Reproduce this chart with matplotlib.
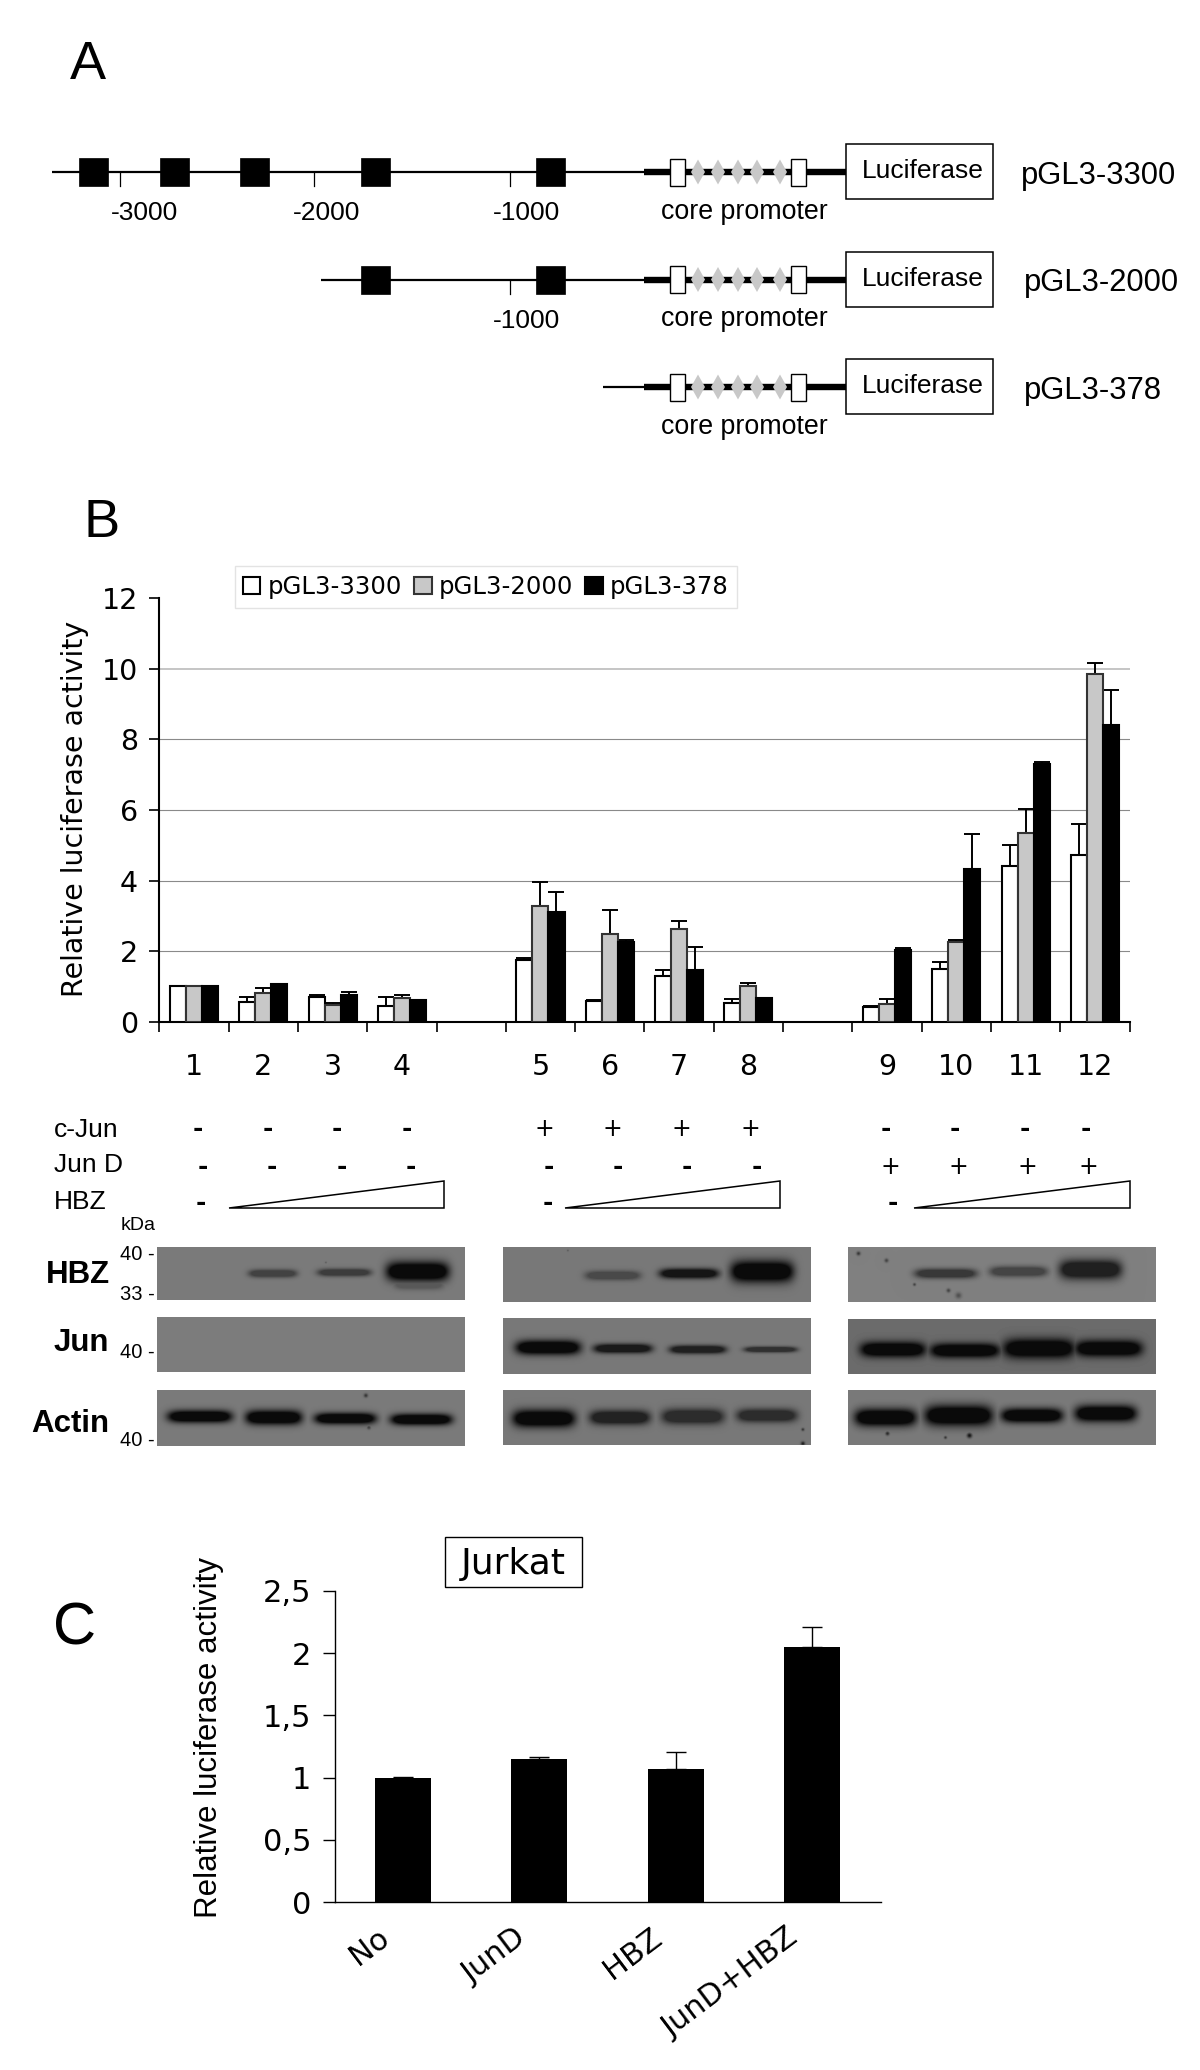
import numpy as np
import matplotlib
matplotlib.use('Agg')
from matplotlib import pyplot as plt
from matplotlib.patches import Rectangle, Polygon

W, H = 1200, 2070
ARIAL = 'Liberation Sans'
VERD = 'DejaVu Sans'

# panel B data
lane_labels = ['1', '2', '3', '4', '5', '6', '7', '8', '9', '10', '11', '12']
lane_slots = [0, 1, 2, 3, 5, 6, 7, 8, 10, 11, 12, 13]
series_names = ['pGL3-3300', 'pGL3-2000', 'pGL3-378']
val_3300 = [1.01, 0.57, 0.70, 0.45, 1.75, 0.60, 1.31, 0.55, 0.43, 1.50, 4.41, 4.73]
top_3300 = [1.01, 0.71, 0.76, 0.70, 1.82, 0.62, 1.46, 0.64, 0.45, 1.69, 5.01, 5.61]
val_2000 = [1.01, 0.83, 0.47, 0.68, 3.28, 2.49, 2.63, 1.01, 0.52, 2.26, 5.36, 9.86]
top_2000 = [1.01, 0.96, 0.54, 0.76, 3.97, 3.18, 2.87, 1.09, 0.64, 2.31, 6.03, 10.16]
val_378 = [1.01, 1.07, 0.76, 0.63, 3.11, 2.26, 1.48, 0.68, 2.03, 4.33, 7.30, 8.41]
top_378 = [1.01, 1.07, 0.86, 0.63, 3.67, 2.33, 2.12, 0.68, 2.10, 5.32, 7.36, 9.39]
b_yticks = [0, 2, 4, 6, 8, 10, 12]

# panel C data
c_labels = ['No', 'JunD', 'HBZ', 'JunD+HBZ']
c_vals = [1.0, 1.15, 1.07, 2.05]
c_tops = [1.005, 1.168, 1.208, 2.21]
c_yticks = [0, 0.5, 1, 1.5, 2, 2.5]
c_yticklabels = ['0', '0,5', '1', '1,5', '2', '2,5']

# treatment rows under panel B
cjun_signs = ['-', '-', '-', '-', '+', '+', '+', '+', '-', '-', '-', '-']
jund_signs = ['-', '-', '-', '-', '-', '-', '-', '-', '+', '+', '+', '+']

fig = plt.figure(figsize=(W / 100, H / 100), dpi=100, facecolor='white')


def rect_px(x0, y0, x1, y1):
    return [x0 / W, 1 - y1 / H, (x1 - x0) / W, (y1 - y0) / H]


ov = fig.add_axes([0, 0, 1, 1], zorder=5)
ov.set_xlim(0, W)
ov.set_ylim(H, 0)
ov.axis('off')
ov.patch.set_alpha(0)


def txt(x, y, s, size, ha='left', va='center', family=ARIAL, **kw):
    ov.text(x, y, s, fontsize=size, ha=ha, va=va, family=family, zorder=6, **kw)


def sign(x, y, s):
    if s == '+':
        txt(x, y, s, 17, ha='center', family=VERD)
    else:
        txt(x, y, s, 18, ha='center', family=VERD, weight='bold')


# panel letters
txt(88, 65, 'A', 39, ha='center')
txt(102, 523, 'B', 39, ha='center')
txt(75, 1629, 'C', 43, ha='center')

# panel A, promoter maps
# (row y, start of thin line, enhancer boxes, scale ticks, name)
rows = [
    (172, 52, [79, 160, 240, 361, 536], [(120, '-3000', 144), (314, '-2000', 327), (510, '-1000', 526)], 'pGL3-3300', 1021),
    (279.5, 321, [361, 536], [(510, '-1000', 526)], 'pGL3-2000', 1024),
    (387, 603, [], [], 'pGL3-378', 1024),
]
for y, start, boxes, scale, name, name_x in rows:
    ov.plot([start, 646], [y, y], color='k', lw=1.6, solid_capstyle='butt')
    ov.plot([644, 846], [y, y], color='k', lw=4.6, solid_capstyle='butt')
    for bx in boxes:
        ov.add_patch(Rectangle((bx, y - 14), 29, 28, fc='k', ec='k', lw=0.5, zorder=3))
    for tx, lab, lx in scale:
        ov.plot([tx, tx], [y, y + 14], color='k', lw=0.9)
        txt(lx, y + 41, lab, 19, ha='center')
    for dx in [698, 718, 738, 757, 780]:
        ov.add_patch(Polygon([(dx - 7, y), (dx, y - 12.5), (dx + 7, y), (dx, y + 12.5)], fc='#c8c8c8', ec='none', zorder=3))
    for wx in [670, 791]:
        ov.add_patch(Rectangle((wx, y - 13.5), 14.5, 27, fc='white', ec='k', lw=1, zorder=4))
    ov.add_patch(Rectangle((845.5, y - 28), 147.5, 55, fc='white', ec='k', lw=1.1, zorder=4))
    txt(923, y - 1, 'Luciferase', 19, ha='center')
    txt(744, y + 40, 'core promoter', 19.3, ha='center')
    txt(name_x, y + 4, name, 22.3)

# panel B bars
ax = fig.add_axes(rect_px(159.3, 598, 1129.6, 1022))
ax.set_xlim(0, 14)
ax.set_ylim(0, 12)
slots = np.array(lane_slots) + 0.5
bw = 0.231
styles = [('white', 'k'), ('#c8c8c8', '#333333'), ('k', 'k')]
vals = [val_3300, val_2000, val_378]
tops = [top_3300, top_2000, top_378]
handles = []
ax.set_axisbelow(True)
for i in range(3):
    xs = slots + (i - 1) * bw
    v = np.array(vals[i])
    t = np.array(tops[i])
    bars = ax.bar(xs, v, bw, color=styles[i][0], edgecolor=styles[i][1], linewidth=1.5, zorder=3, label=series_names[i])
    handles.append(bars)
    keep = t > v
    ax.errorbar(xs[keep], v[keep], yerr=[np.zeros(keep.sum()), (t - v)[keep]], fmt='none', ecolor='k',
                elinewidth=1.4, capsize=5.8, capthick=1.4, zorder=2.5)
ax.spines['top'].set_visible(False)
ax.spines['right'].set_visible(False)
ax.spines['left'].set_linewidth(1.5)
ax.spines['bottom'].set_linewidth(1.5)
ax.set_yticks(b_yticks)
ax.set_xticks(range(15))
ax.set_xticklabels([])
ax.set_xticks(slots, lane_labels, minor=True)
ax.tick_params(axis='x', which='major', length=7.2, width=1.2)
ax.tick_params(axis='x', which='minor', length=0, pad=22, labelsize=20.5, labelfontfamily=VERD)
ax.tick_params(axis='y', length=7.2, width=1.2, labelsize=20.5, labelfontfamily=VERD, pad=8)
ax.yaxis.grid(True, color='#8a8a8a', lw=0.8)
gl = ax.yaxis.get_gridlines()
gl[0].set_visible(False)
gl[-1].set_visible(False)
gl[-2].set_color('#bbbbbb')
gl[-2].set_linewidth(1.2)
txt(75, 809, 'Relative luciferase activity', 20.5, ha='center', family=VERD, rotation=90)

leg = fig.legend(handles=[h[0] for h in handles], labels=series_names, ncol=3, loc='center',
                 bbox_to_anchor=(486 / W, 1 - 587 / H), frameon=True, fancybox=False, edgecolor='#dddddd',
                 prop={'family': VERD, 'size': 17.6}, handlelength=0.7, handleheight=0.7,
                 handletextpad=0.3, columnspacing=0.5, borderpad=0.35, borderaxespad=0)
leg.get_frame().set_linewidth(1)

# treatment table
txt(54, 1130, 'c-Jun', 19)
txt(54, 1165, 'Jun D', 19)
txt(54, 1202, 'HBZ', 19)
cjun_x = [198, 268, 337, 406.5, 544, 612.6, 681, 750, 885.5, 955, 1025, 1086]
jund_x = [203, 272, 341.5, 411, 549, 618, 687, 757, 890, 958, 1027, 1088]
for x, s in zip(cjun_x, cjun_signs):
    sign(x, 1129, s)
for x, s in zip(jund_x, jund_signs):
    sign(x, 1167, s)
for x in [201, 548, 893]:
    sign(x, 1203, '-')
for x0, x1 in [(229, 444), (565, 780), (914, 1130)]:
    ov.add_patch(Polygon([(x0, 1207.5), (x1, 1207.5), (x1, 1181)], fc='white', ec='k', lw=1.1, joinstyle='miter'))

txt(120.5, 1226, 'kDa', 14)
txt(120.5, 1255, '40 -', 14.5)
txt(120.5, 1294, '33 -', 14.5)
txt(120.5, 1352, '40 -', 14.5)
txt(120.5, 1440, '40 -', 14.5)
txt(109.5, 1275, 'HBZ', 22.5, ha='right', weight='bold')
txt(109.5, 1343, 'Jun', 22.5, ha='right', weight='bold')
txt(109.5, 1424, 'Actin', 22.5, ha='right', weight='bold')

# western blots: (x0, y0, x1, y1, background, bands, specks)
# band = (left, right, y centre, half height, strength)
blots = [
    (156.6, 1247, 464, 1300, 0.48,
     [(248, 296, 1273, 2.4, 0.5), (317, 370, 1272, 2.2, 0.55), (385.5, 448, 1271, 8, 1.0), (393, 443, 1284, 3.5, 0.3)],
     [(325, 1262, 1, 0.25)]),
    (156.6, 1317, 464, 1372, 0.49, [], []),
    (156.6, 1390, 464, 1446, 0.48,
     [(167, 231, 1416, 4.5, 1.0), (245, 301, 1417, 5.5, 1.0), (314, 375, 1418, 4, 1.0), (390, 451, 1419, 4, 1.0)],
     [(365, 1395, 2, 0.6), (368, 1427, 2, 0.5)]),
    (502.6, 1247, 810.5, 1302, 0.47,
     [(584.5, 639.4, 1275, 3, 0.42), (659, 717.5, 1273, 3.3, 0.9), (730, 792.5, 1271, 9, 1.0)],
     [(567, 1250, 1, 0.25)]),
    (502.6, 1318, 810.5, 1374, 0.47,
     [(515, 579.5, 1347, 5.5, 1.0), (593, 651, 1348, 3, 0.85), (669, 725, 1349, 2.5, 0.8), (743.5, 796, 1349, 1.3, 0.65)], []),
    (502.6, 1390, 810.5, 1445, 0.47,
     [(512, 574, 1418, 7, 1.0), (589, 649, 1417, 5.5, 0.78), (661, 723, 1416, 6, 0.68), (736, 796, 1415, 5, 0.68)],
     [(802, 1429, 1.5, 0.6), (802, 1443, 2, 0.8)]),
    (848, 1247, 1155.7, 1302, 0.5,
     [(914.6, 976, 1273, 3.2, 0.6), (989.6, 1046.6, 1271, 3.5, 0.5), (1059, 1121, 1269, 8, 0.8)],
     [(858, 1253, 2, 0.6), (886, 1260, 2, 0.5), (958, 1295, 3, 0.4), (914, 1284, 1.5, 0.5), (948, 1290, 2, 0.5)]),
    (848, 1319, 1155.7, 1374, 0.42,
     [(860, 925, 1349, 6, 1.0), (930, 999, 1350, 5.5, 1.0), (1003, 1074, 1348, 8, 1.0), (1074.6, 1141.5, 1348, 6.5, 1.0)], []),
    (848, 1390, 1155.7, 1445, 0.48,
     [(854.5, 915.7, 1417, 7, 1.0), (924.5, 992, 1415, 8.5, 1.0), (1001, 1062, 1415, 5.5, 1.0), (1074.6, 1135.8, 1413, 6.5, 1.0)],
     [(887, 1433, 2, 0.7), (969, 1435, 2.5, 0.9), (945, 1437, 1.5, 0.6)]),
]
for x0, y0, x1, y1, bg, bands, specks in blots:
    xx, yy = np.meshgrid(np.arange(x0, x1), np.arange(y0, y1))
    dark = np.zeros_like(xx)
    for bl, br, yc, hh, st in bands:
        # rounded blob, saturated in the middle with soft edges
        xc = (bl + br) / 2
        hw = (br - bl) / 2
        d = (np.abs(xx - xc) / hw) ** 6 + (np.abs(yy - yc) / (hh + 1.5)) ** 2
        dark = np.maximum(dark, np.clip(1.6 * st * np.exp(-d), 0, st))
    for sx, sy, r, st in specks:
        dark = np.maximum(dark, st * np.exp(-((xx - sx) ** 2 + (yy - sy) ** 2) / r ** 2))
    img = bg * (1 - dark) + 0.04 * dark
    bax = fig.add_axes(rect_px(x0, y0, x1, y1))
    bax.imshow(img, cmap='gray', vmin=0, vmax=1, aspect='auto', interpolation='bilinear')
    bax.axis('off')

# panel C bars
axc = fig.add_axes(rect_px(334.7, 1591, 880.5, 1902))
c_x = np.arange(len(c_labels)) + 0.5
axc.bar(c_x, c_vals, 0.41, color='k', zorder=3)
axc.errorbar(c_x, c_vals, yerr=[np.zeros(4), np.array(c_tops) - np.array(c_vals)], fmt='none', ecolor='k',
             elinewidth=1, capsize=7.5, capthick=1, zorder=2)
axc.set_xlim(0, 4)
axc.set_ylim(0, 2.5)
axc.spines['top'].set_visible(False)
axc.spines['right'].set_visible(False)
axc.spines['left'].set_linewidth(1)
axc.spines['bottom'].set_linewidth(1)
axc.set_yticks(c_yticks, c_yticklabels)
axc.tick_params(axis='y', length=9, width=1, labelsize=22, labelfontfamily=VERD, pad=8)
axc.set_xticks(c_x - 0.19, c_labels)
axc.tick_params(axis='x', length=0, pad=15)
for lab in axc.get_xticklabels():
    lab.set(rotation=37, ha='right', va='top', rotation_mode='anchor', fontsize=22, family=VERD)
txt(209, 1737, 'Relative luciferase activity', 22.5, ha='center', rotation=90)
ov.add_patch(Rectangle((445, 1537), 136.5, 50, fc='white', ec='k', lw=1))
txt(513, 1564, 'Jurkat', 26, ha='center', family=VERD)

fig.savefig('out.png', dpi=100)
